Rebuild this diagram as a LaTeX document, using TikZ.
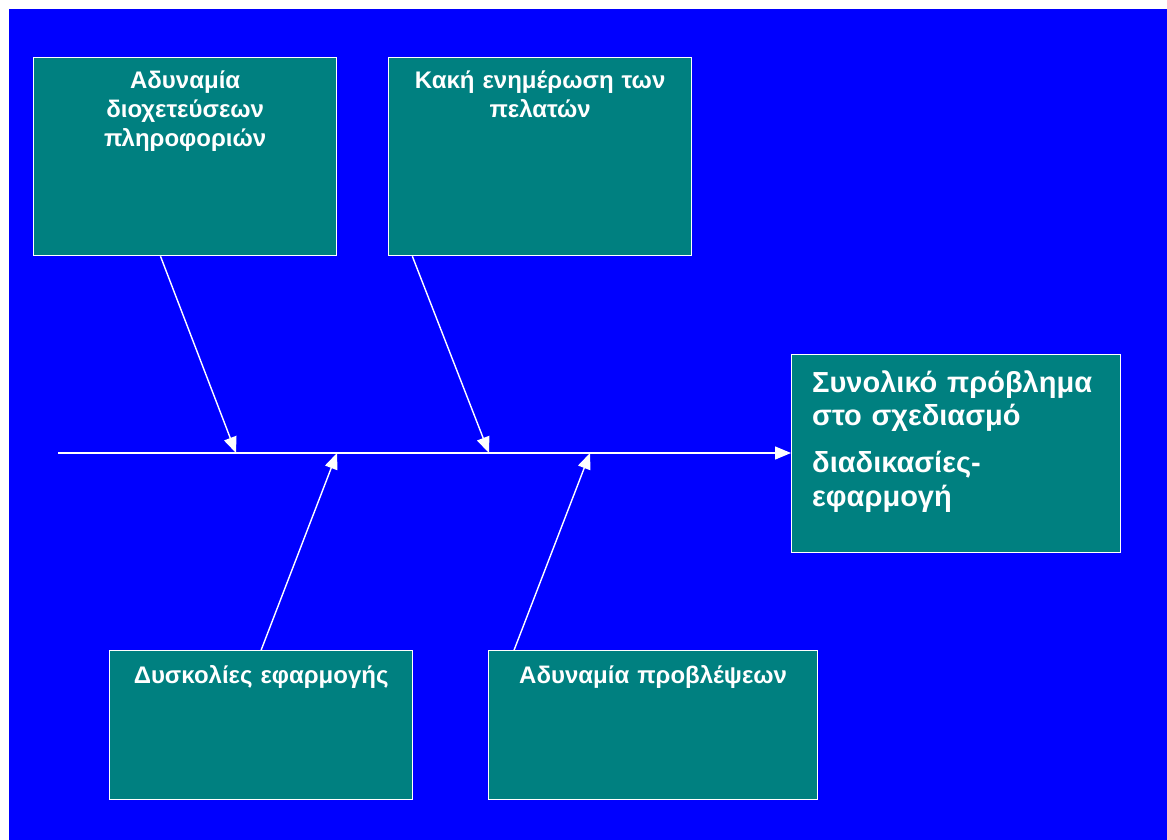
\documentclass[tikz,border=0pt]{standalone}
\usepackage{fontspec}
\setmainfont{Liberation Sans}
\usetikzlibrary{arrows.meta,calc}
\definecolor{bgblue}{HTML}{0000FF}
\definecolor{boxteal}{HTML}{008080}
\begin{document}
\begin{tikzpicture}[x=1pt,y=-1pt,
  cause/.style={draw=white,line width=1.3pt,fill=boxteal,inner sep=0pt,
    minimum width=303pt,minimum height=198pt,anchor=north west},
  lowcause/.style={cause,minimum height=149pt},
  effect/.style={cause,minimum width=329pt},
  label/.style={text=white,inner sep=0pt,anchor=base,align=center,
    font=\fontsize{24}{29}\selectfont\bfseries},
  biglabel/.style={text=white,inner sep=0pt,anchor=base west,align=left,
    text width=305pt,font=\fontsize{29}{33}\selectfont\bfseries},
  arr/.style={draw=white,line width=1.4pt,-{Triangle[length=16pt,width=13pt]}}]
  % page and background
  \useasboundingbox (0,0) rectangle (1167,840);
  \fill[white] (0,0) rectangle (1167,840);
  \fill[bgblue] (9,9) rectangle (1167,840);

  % boxes
  \node[cause] (b1) at (33,57) {};
  \node[cause] (b2) at (388,57) {};
  \node[lowcause] (b3) at (109,650) {};
  \node[lowcause,minimum width=329pt] (b4) at (488,650) {};
  \node[effect] (rb) at (791,354) {};

  % labels
  \node[label,text width=295pt] (t1) at ($(b1.north)+(0,32)$)
    {Αδυναμία\\διοχετεύσεων\\πληροφοριών};
  \node[label,text width=295pt] (t2) at ($(b2.north)+(0,32)$)
    {Κακή ενημέρωση των\\πελατών};
  \node[label,text width=295pt] (t3) at ($(b3.north)+(0,33)$)
    {Δυσκολίες εφαρμογής};
  \node[label,text width=320pt] (t4) at ($(b4.north)+(0,33)$)
    {Αδυναμία προβλέψεων};
  \node[biglabel] (t5) at ($(rb.north west)+(21,38)$)
    {Συνολικό πρόβλημα\\στο σχεδιασμό\\[14pt]διαδικασίες-\\[1pt]εφαρμογή};

  % spine
  \coordinate (spine) at (58,453);
  \draw[arr] (spine) -- (spine -| rb.west);

  % bones
  \coordinate (s1) at (236,453);
  \coordinate (s2) at (489,453);
  \coordinate (s3) at (337,453);
  \coordinate (s4) at (590,453);
  \draw[arr] ($(b1.south west)!0.419!(b1.south east)$) -- (s1);
  \draw[arr] ($(b2.south west)!0.08!(b2.south east)$) -- (s2);
  \draw[arr] (b3.north) -- (s3);
  \draw[arr] ($(b4.north west)!0.079!(b4.north east)$) -- (s4);
\end{tikzpicture}
\end{document}
